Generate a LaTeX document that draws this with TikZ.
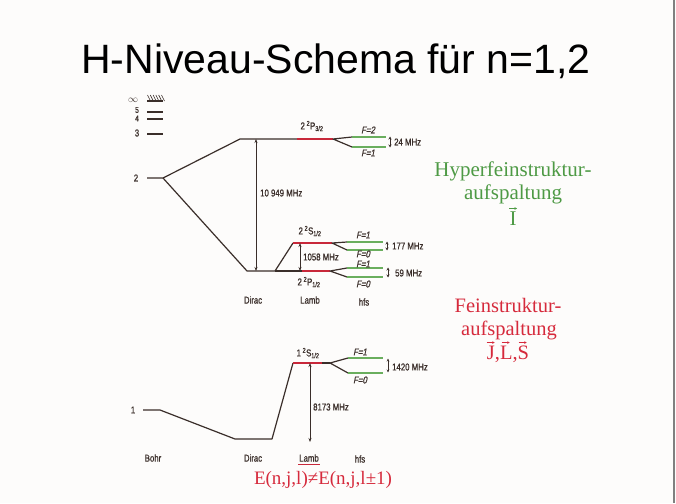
\documentclass[tikz,border=0pt]{standalone}
\usepackage{fontspec}
\setmainfont{Liberation Serif}
\newfontfamily\titlefont{Liberation Sans}
\newfontfamily\dg[FakeStretch=0.78,FakeBold=0.8]{Liberation Sans}
\newfontfamily\dgi[FakeStretch=0.78,FakeSlant=0.2,FakeBold=0.8]{Liberation Sans}
\usetikzlibrary{arrows.meta,calc}
\definecolor{ln}{HTML}{3A2E2A}
\definecolor{lred}{HTML}{C8283A}
\definecolor{lgreen}{HTML}{6AAE5E}
\definecolor{tgreen}{HTML}{4E9A45}
\definecolor{tred}{HTML}{D62A3C}
\definecolor{bg}{HTML}{FDFCFB}
\begin{document}
\begin{tikzpicture}[x=1pt,y=-1pt,
  lvl/.style={draw=ln,line width=1.2pt,line join=round},
  redlvl/.style={draw=lred,line width=1.5pt},
  hflvl/.style={draw=lgreen,line width=1.2pt},
  lab/.style={font=\dg\fontsize{10}{11}\selectfont,text=ln,inner sep=0pt},
  flab/.style={font=\dgi\fontsize{10}{11}\selectfont,text=ln,inner sep=0pt},
  dimarr/.style={draw=ln,line width=0.7pt,{Stealth[length=4pt,width=3pt]}-{Stealth[length=4pt,width=3pt]}},
  smallarr/.style={draw=ln,line width=0.8pt,{Stealth[length=3pt,width=3pt]}-{Stealth[length=3pt,width=3pt]}},
  vecarr/.style={line width=0.6pt,-{Stealth[length=2.5pt,width=2.5pt]}},
  gtext/.style={font=\fontsize{21}{23}\selectfont,text=tgreen,inner sep=0pt,anchor=base},
  rtext/.style={font=\fontsize{20.5}{22}\selectfont,text=tred,inner sep=0pt,anchor=base}]
\useasboundingbox (0,0) rectangle (676,503);
\fill[bg] (0,0) rectangle (676,503);
\draw[gray,line width=1.2pt] (674,0) -- (674,503);

% title
\node[font=\titlefont\fontsize{41}{43}\selectfont,anchor=base,inner sep=0pt] (title) at (336,74) {H-Niveau-Schema für n=1,2};

% ---------- n = 2 ----------
\coordinate (n2L) at (147,178); \coordinate (n2R) at (163,178);
\coordinate (P32a) at (240,139); \coordinate (P32r) at (297,139); \coordinate (P32s) at (333,139);
\coordinate (F2a) at (352,137); \coordinate (F2b) at (386,137);
\coordinate (F1a) at (352,147); \coordinate (F1b) at (386,147);
\coordinate (D2a) at (247,271); \coordinate (D2b) at (275,271);
\coordinate (S12a) at (293,243); \coordinate (S12s) at (332,243);
\coordinate (SF1a) at (347,242); \coordinate (SF1b) at (383,242);
\coordinate (SF0a) at (347,250); \coordinate (SF0b) at (383,250);
\coordinate (P12r) at (302,271); \coordinate (P12s) at (330,271);
\coordinate (PF1a) at (347,268); \coordinate (PF1b) at (383,268);
\coordinate (PF0a) at (347,277); \coordinate (PF0b) at (383,277);

% high levels
\draw[lvl] (147,101) -- (163,101);
\foreach \i in {0,...,5} \draw[ln,line width=0.6pt] (147.5+2.8*\i,95) -- (150.5+2.8*\i,101);
\draw[lvl] (147,112) -- (163,112);
\draw[lvl] (147,119) -- (163,119);
\draw[lvl] (147,134) -- (163,134);

\draw[lvl] (n2L) -- (n2R) -- (P32a) -- (P32r);
\draw[redlvl] (P32r) -- (P32s);
\draw[lvl] (F2a) -- (P32s) -- (F1a);
\draw[hflvl] (F2a) -- (F2b);
\draw[hflvl] (F1a) -- (F1b);

\draw[lvl] (n2R) -- (D2a) -- (D2b) -- (S12a);
\draw[redlvl] (S12a) -- (S12s);
\draw[lvl] (SF1a) -- (S12s) -- (SF0a);
\draw[hflvl] (SF1a) -- (SF1b);
\draw[hflvl] (SF0a) -- (SF0b);
\draw[lvl] (D2b) -- (P12r);
\draw[redlvl] (P12r) -- (P12s);
\draw[lvl] (PF1a) -- (P12s) -- (PF0a);
\draw[hflvl] (PF1a) -- (PF1b);
\draw[hflvl] (PF0a) -- (PF0b);

% arrows n=2
\coordinate (a1t) at (256,139); \coordinate (a1b) at (256,271);
\draw[dimarr] (a1t) -- (a1b);
\coordinate (a2t) at (300,243); \coordinate (a2b) at (300,271);
\draw[dimarr] (a2t) -- (a2b);
\coordinate (a3t) at (390,136.5); \coordinate (a3b) at (390,147.5);
\draw[smallarr] (a3t) -- (a3b);
\coordinate (a4t) at (387,241.5); \coordinate (a4b) at (387,250.5);
\draw[smallarr] (a4t) -- (a4b);
\coordinate (a5t) at (388,267.5); \coordinate (a5b) at (388,277.5);
\draw[smallarr] (a5t) -- (a5b);

% labels n=2
\node[font=\fontsize{10}{11}\selectfont,text=ln,inner sep=0pt] (linf) at (133,100) {$\infty$};
\node[lab,font=\dg\fontsize{8.5}{9}\selectfont] (l5) at (137,110) {5};
\node[lab,font=\dg\fontsize{8.5}{9}\selectfont] (l4) at (137,118.5) {4};
\node[lab] (l3) at (137,133) {3};
\node[lab] (l2) at (136,178) {2};
\node[lab] (tP32) at (312,126) {2\,\textsuperscript{2}P\textsubscript{3/2}};
\node[flab] (tF2) at (368,130) {F=2};
\node[flab] (tF1) at (368,153) {F=1};
\node[lab,anchor=west] (t24) at (394,142) {24 MHz};
\node[lab,anchor=west] (t10949) at (260,193) {10 949 MHz};
\node[lab] (tS12) at (310,231) {2\,\textsuperscript{2}S\textsubscript{1/2}};
\node[lab] (tP12) at (309,282) {2\,\textsuperscript{2}P\textsubscript{1/2}};
\node[lab,anchor=west] (t1058) at (303,257) {1058 MHz};
\node[flab] (tSF1) at (363,235) {F=1};
\node[flab] (tSF0) at (363,254) {F=0};
\node[flab] (tPF1) at (363,264) {F=1};
\node[flab] (tPF0) at (363,284) {F=0};
\node[lab,anchor=west] (t177) at (392,246) {177 MHz};
\node[lab,anchor=west] (t59) at (395,273) {59 MHz};
\node[lab] (dirac2) at (253,300) {Dirac};
\node[lab] (lamb2) at (310,300) {Lamb};
\node[lab] (hfs2) at (364,302) {hfs};

% ---------- n = 1 ----------
\coordinate (n1L) at (143,410); \coordinate (n1R) at (160,410);
\coordinate (D1a) at (235,439); \coordinate (D1b) at (272,439);
\coordinate (S1a) at (293,363); \coordinate (S1r) at (322,363); \coordinate (S1s) at (330,363);
\coordinate (G1a) at (348,358); \coordinate (G1b) at (383,358);
\coordinate (G0a) at (348,373); \coordinate (G0b) at (383,373);
\draw[lvl] (n1L) -- (n1R) -- (D1a) -- (D1b) -- (S1a);
\draw[redlvl] (S1a) -- (S1r);
\draw[lvl] (S1r) -- (S1s);
\draw[lvl] (G1a) -- (S1s) -- (G0a);
\draw[hflvl] (G1a) -- (G1b);
\draw[hflvl] (G0a) -- (G0b);

\coordinate (a6t) at (310,363); \coordinate (a6b) at (310,442);
\draw[dimarr] (a6t) -- (a6b);
\coordinate (a7t) at (388,358.5); \coordinate (a7b) at (388,372.5);
\draw[dimarr,{Stealth[length=3pt,width=2.5pt]}-{Stealth[length=3pt,width=2.5pt]}] (a7t) -- (a7b);

\node[lab] (l1) at (133,410) {1};
\node[lab] (tS1) at (308,353) {1\,\textsuperscript{2}S\textsubscript{1/2}};
\node[flab] (tG1) at (360,352) {F=1};
\node[flab] (tG0) at (360,380) {F=0};
\node[lab,anchor=west] (t1420) at (392,367) {1420 MHz};
\node[lab,anchor=west] (t8173) at (313,407) {8173 MHz};
\node[lab] (bohr) at (153,458) {Bohr};
\node[lab] (dirac1) at (253,458) {Dirac};
\node[lab] (lamb1) at (309,458) {Lamb};
\node[lab] (hfs1) at (360,459) {hfs};
\draw[lred,line width=0.9pt] (298,464) -- (320,464);

\node[rtext,font=\fontsize{19}{21}\selectfont] (eq) at (323,484) {E(n,j,l)≠E(n,j,l±1)};

% ---------- right texts ----------
\node[gtext] (h1) at (513,176) {Hyperfeinstruktur-};
\node[gtext] (h2) at (513,199) {aufspaltung};
\node[gtext] (h3) at (513,225) {I};
\draw[vecarr,tgreen] ($(h3.base)+(-4,-16.5)$) -- ($(h3.base)+(4,-16.5)$);
\node[rtext] (f1) at (508,312) {Feinstruktur-};
\node[rtext] (f2) at (509,335) {aufspaltung};
\node[rtext] (f3) at (508,359) {J,L,S};
\draw[vecarr,tred] ($(f3.base west)+(0,-16.5)$) -- ($(f3.base west)+(8,-16.5)$);
\draw[vecarr,tred] ($(f3.base west)+(15,-16.5)$) -- ($(f3.base west)+(23,-16.5)$);
\draw[vecarr,tred] ($(f3.base west)+(32,-16.5)$) -- ($(f3.base west)+(40,-16.5)$);
\end{tikzpicture}
\end{document}
